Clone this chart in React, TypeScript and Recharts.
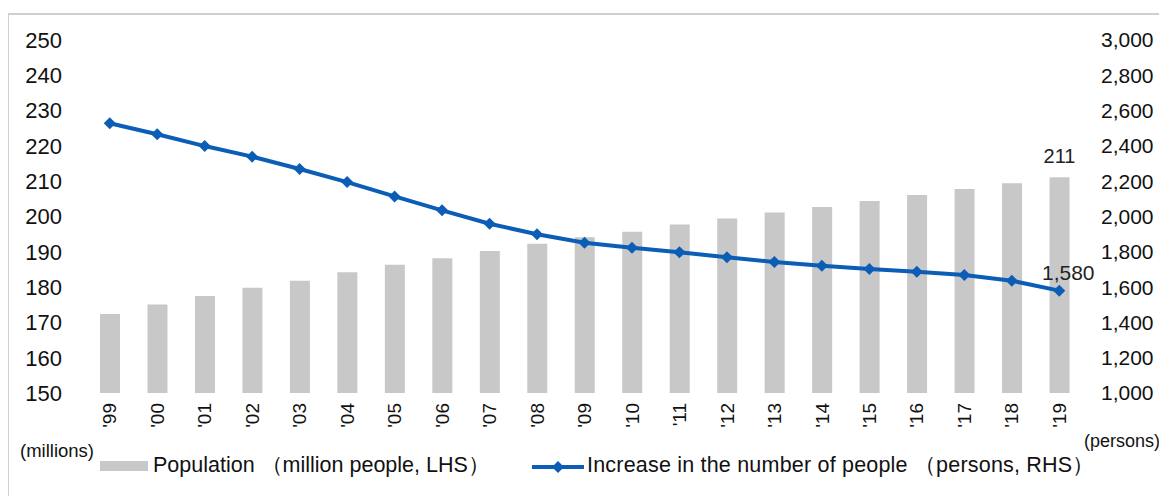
import React from 'react';
import { ComposedChart, Bar, Line, XAxis, YAxis, LabelList } from 'recharts';

const years = ["'99", "'00", "'01", "'02", "'03", "'04", "'05", "'06", "'07", "'08", "'09", "'10", "'11", "'12", "'13", "'14", "'15", "'16", "'17", "'18", "'19"];
const population = [172.4, 175.1, 177.5, 179.8, 181.8, 184.2, 186.3, 188.2, 190.2, 192.3, 194.1, 195.7, 197.7, 199.4, 201.1, 202.7, 204.4, 206.1, 207.8, 209.4, 211.1];
const increase = [2528, 2466, 2399, 2339, 2269, 2195, 2114, 2035, 1959, 1899, 1851, 1823, 1797, 1769, 1742, 1721, 1703, 1687, 1669, 1636, 1580];
const leftTicks = [150, 160, 170, 180, 190, 200, 210, 220, 230, 240, 250];
const rightTicks = [1000, 1200, 1400, 1600, 1800, 2000, 2200, 2400, 2600, 2800, 3000];

const data = years.map((y, i) => ({ year: y, pop: population[i], inc: increase[i] }));

const FONT = '"Liberation Sans", Arial, sans-serif';
const BAR = '#c8c8c8';
const BLUE = '#0b5db6';
const LAST = years.length - 1;

function Diamond({ cx, cy }: any) {
  if (cx == null || cy == null) return null;
  const r = 6;
  return <polygon points={`${cx},${cy - r} ${cx + r},${cy} ${cx},${cy + r} ${cx - r},${cy}`} fill={BLUE} />;
}

function YearTick({ x, y, payload }: any) {
  return (
    <text x={x} y={y} transform={`rotate(-90, ${x}, ${y})`} textAnchor="end" dy="0.35em"
      fontSize={19} fontFamily={FONT} fill="#111">
      {payload.value}
    </text>
  );
}

function BarLabel({ x, y, width, value, index }: any) {
  if (index !== LAST) return null;
  return (
    <text x={x + width / 2} y={y - 14} textAnchor="middle" fontSize={20} fontFamily={FONT} fill="#222">
      {Math.round(value)}
    </text>
  );
}

function LineLabel({ x, y, value, index }: any) {
  if (index !== LAST) return null;
  return (
    <text x={x + 9} y={y - 11} textAnchor="middle" fontSize={21} fontFamily={FONT} fill="#222">
      {value.toLocaleString('en-US')}
    </text>
  );
}

export default function App() {
  return (
    <div style={{ position: 'relative', width: 1159, height: 488, fontFamily: FONT, color: '#111' }}>
      <div style={{ position: 'absolute', left: -1, top: 5, width: 1158, height: 481, borderTop: '2px solid #cfcfcf', borderLeft: '2px solid #cfcfcf' }} />
      <ComposedChart width={1159} height={488} data={data} margin={{ top: 32, right: 0, bottom: 63, left: 0 }}
        barCategoryGap={0}>
        <XAxis dataKey="year" axisLine={false} tickLine={false} tickSize={0} tickMargin={10} height={40}
          interval={0} tick={<YearTick />} />
        <YAxis yAxisId="left" domain={[150, 250]} ticks={leftTicks} width={78} axisLine={false} tickLine={false}
          tickSize={0} tickMargin={24} interval={0}
          tick={{ fontSize: 22, fontFamily: FONT, fill: '#111' }} />
        <YAxis yAxisId="right" orientation="right" domain={[1000, 3000]} ticks={rightTicks} width={84}
          axisLine={false} tickLine={false} tickSize={0} tickMargin={18} interval={0}
          tickFormatter={(v: number) => v.toLocaleString('en-US')}
          tick={{ fontSize: 21, fontFamily: FONT, fill: '#111' }} />
        <Bar yAxisId="left" dataKey="pop" fill={BAR} barSize={20} isAnimationActive={false}>
          <LabelList dataKey="pop" content={<BarLabel />} />
        </Bar>
        <Line yAxisId="right" dataKey="inc" stroke={BLUE} strokeWidth={4} dot={<Diamond />} activeDot={false}
          isAnimationActive={false}>
          <LabelList dataKey="inc" content={<LineLabel />} />
        </Line>
      </ComposedChart>
      <div style={{ position: 'absolute', left: 12, top: 432, fontSize: 18.5, lineHeight: '22px' }}>(millions)</div>
      <div style={{ position: 'absolute', left: 1076, top: 422, fontSize: 18, lineHeight: '22px', whiteSpace: 'nowrap' }}>(persons)</div>
      <div style={{ position: 'absolute', left: 92, top: 453, width: 48, height: 10, background: BAR }} />
      <div style={{ position: 'absolute', left: 145, top: 445, fontSize: 21.5, lineHeight: '24px', whiteSpace: 'nowrap' }}>
        Population （million people, LHS）
      </div>
      <svg style={{ position: 'absolute', left: 524, top: 452 }} width={52} height={14}>
        <line x1={0} y1={7} x2={52} y2={7} stroke={BLUE} strokeWidth={4} />
        <polygon points="26,1 32,7 26,13 20,7" fill={BLUE} />
      </svg>
      <div style={{ position: 'absolute', left: 579, top: 445, fontSize: 21.5, lineHeight: '24px', whiteSpace: 'nowrap', letterSpacing: '0.2px' }}>
        Increase in the number of people （persons, RHS）
      </div>
    </div>
  );
}
